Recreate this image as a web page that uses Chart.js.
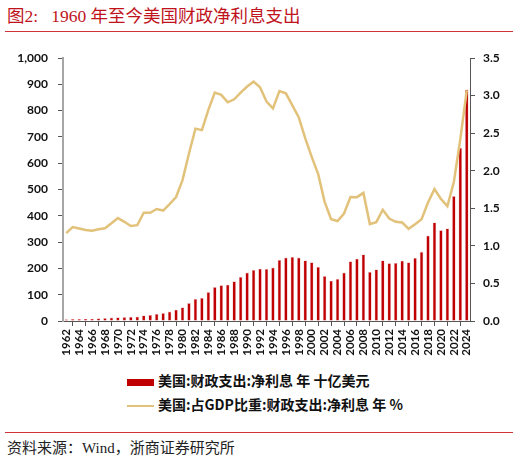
<!DOCTYPE html>
<html>
<head>
<meta charset="utf-8">
<script src="https://cdn.jsdelivr.net/npm/chart.js@4/dist/chart.umd.min.js"></script>
<style>
  html, body { margin: 0; padding: 0; background: #fff; }
  body { width: 520px; height: 463px; position: relative; overflow: hidden; font-family: "Noto Sans CJK SC", sans-serif; }
  .title { position: absolute; left: 7px; top: 2px; font-size: 17.5px; color: #c0131c; font-family: "Liberation Serif", "Noto Sans CJK SC", serif; white-space: pre; }
  .rule { position: absolute; left: 5px; width: 508px; height: 1px; background: #d0343c; }
  #wrap { position: absolute; left: 0; top: 40px; width: 520px; height: 325px; }
  .legend { position: absolute; left: 127px; font-size: 14px; font-weight: bold; color: #111; white-space: pre; }
  .legend .key { display: inline-block; width: 27px; vertical-align: middle; margin-right: 4px; }
  .source { position: absolute; left: 7px; top: 436px; font-size: 15px; color: #222; font-family: "Liberation Serif", "Noto Sans CJK SC", serif; }
</style>
</head>
<body>
<div class="title">图2:   1960 年至今美国财政净利息支出</div>
<div class="rule" style="top:31px"></div>
<div id="wrap"><canvas id="chart" width="520" height="325"></canvas></div>
<div class="legend" style="top:370px"><span class="key" style="height:7px;background:#c00000"></span>美国:财政支出:净利息 年 十亿美元</div>
<div class="legend" style="top:394px"><span class="key" style="height:2px;background:#e2c27a"></span>美国:占GDP比重:财政支出:净利息 年 %</div>
<div class="rule" style="top:432px"></div>
<div class="source">资料来源：Wind，浙商证券研究所</div>

<script>
// 年份
const years = [
  '1962','1963','1964','1965','1966','1967','1968','1969','1970','1971',
  '1972','1973','1974','1975','1976','1977','1978','1979','1980','1981',
  '1982','1983','1984','1985','1986','1987','1988','1989','1990','1991',
  '1992','1993','1994','1995','1996','1997','1998','1999','2000','2001',
  '2002','2003','2004','2005','2006','2007','2008','2009','2010','2011',
  '2012','2013','2014','2015','2016','2017','2018','2019','2020','2021',
  '2022','2023','2024'
];

// 净利息支出，十亿美元
const netInterest = [
  7, 8, 8, 9, 9, 10, 11, 13, 14, 15,
  16, 17, 21, 23, 27, 30, 36, 43, 52, 68,
  84, 88, 110, 129, 136, 138, 151, 168, 184, 194,
  199, 198, 203, 232, 241, 244, 241, 230, 223, 206,
  171, 153, 160, 184, 227, 237, 253, 187, 196, 230,
  220, 221, 229, 223, 240, 263, 325, 375, 345, 352,
  475, 658, 880
];

// 占GDP比重，%
const shareOfGdp = [
  1.17, 1.25, 1.23, 1.21, 1.20, 1.22, 1.235, 1.30, 1.37, 1.32,
  1.265, 1.275, 1.44, 1.44, 1.49, 1.47, 1.555, 1.65, 1.875, 2.23,
  2.56, 2.54, 2.81, 3.04, 3.01, 2.91, 2.95, 3.04, 3.12, 3.185,
  3.11, 2.92, 2.83, 3.06, 3.03, 2.87, 2.71, 2.43, 2.185, 1.955,
  1.585, 1.355, 1.33, 1.43, 1.65, 1.648, 1.705, 1.29, 1.315, 1.48,
  1.364, 1.32, 1.31, 1.226, 1.288, 1.355, 1.577, 1.755, 1.625, 1.528,
  1.85, 2.42, 3.07
];

const tickFont = { family: 'Lato, "Liberation Sans", sans-serif', size: 12, weight: 'bold' };
const axisDark = '#555';

new Chart(document.getElementById('chart'), {
  type: 'bar',
  data: {
    labels: years,
    datasets: [
      {
        type: 'line',
        label: '美国:占GDP比重:财政支出:净利息 年 %',
        data: shareOfGdp,
        yAxisID: 'y1',
        borderColor: '#e2c27a',
        borderWidth: 2.5,
        pointRadius: 0,
        tension: 0,
        order: 0,
      },
      {
        label: '美国:财政支出:净利息 年 十亿美元',
        data: netInterest,
        yAxisID: 'y',
        backgroundColor: '#c00000',
        borderColor: 'rgba(230,150,160,0.7)',
        borderWidth: { left: 0.6, right: 0.6, top: 0.6, bottom: 0 },
        barPercentage: 0.55,
        categoryPercentage: 1,
        order: 1,
      },
    ],
  },
  options: {
    responsive: false,
    animation: false,
    layout: { padding: { top: 18, left: 0, right: 0, bottom: 0 } },
    plugins: { legend: { display: false }, tooltip: { enabled: false } },
    scales: {
      x: {
        offset: true,
        afterFit: s => { s.height = 44; },
        grid: { offset: true, drawOnChartArea: false, drawTicks: true, tickLength: 5, color: axisDark },
        border: { color: axisDark, width: 1 },
        ticks: {
          autoSkip: false, maxRotation: 90, minRotation: 90, padding: 3,
          color: '#111', font: { family: tickFont.family, size: 11.5, weight: 'bold' },
          callback: function(v, i) { return i % 2 === 0 ? this.getLabelForValue(v) : null; },
        },
      },
      y: {
        position: 'left',
        min: 0, max: 1000,
        afterFit: s => { s.width = 63; },
        grid: { drawOnChartArea: false, drawTicks: true, tickLength: 5, color: axisDark },
        border: { color: '#a6a6a6', width: 2 },
        ticks: {
          stepSize: 100, padding: 10, color: '#111', font: tickFont,
          callback: v => v.toLocaleString('en-US'),
        },
      },
      y1: {
        position: 'right',
        min: 0, max: 3.5,
        afterFit: s => { s.width = 50; },
        grid: { drawOnChartArea: false, drawTicks: true, tickLength: 5, color: axisDark },
        border: { color: axisDark, width: 1 },
        ticks: {
          stepSize: 0.5, padding: 8, color: '#111', font: tickFont,
          callback: v => v.toFixed(1),
        },
      },
    },
  },
});
</script>
</body>
</html>
